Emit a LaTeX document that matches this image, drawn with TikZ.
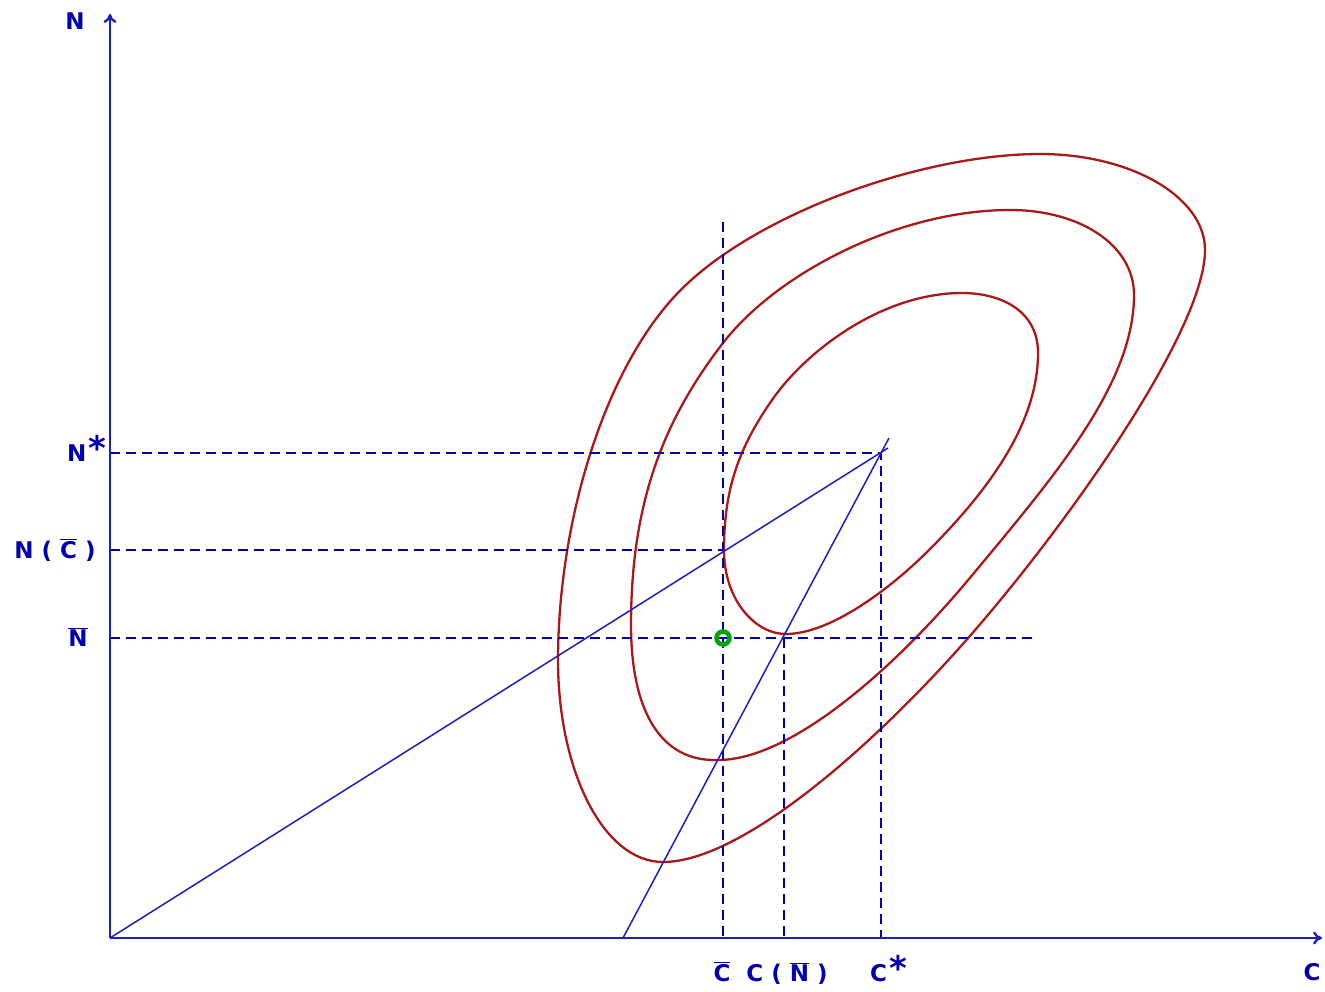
\documentclass[tikz,border=0pt]{standalone}
\usepackage{fontspec}
\setmainfont{DejaVu Sans}
\usetikzlibrary{arrows.meta}
\definecolor{axblue}{RGB}{30,30,190}
\definecolor{dblue}{RGB}{0,0,175}
\definecolor{cred}{RGB}{170,25,25}
\definecolor{cgreen}{RGB}{0,165,0}
\newcommand\ovl[1]{\ensuremath{\overline{\mbox{#1}}}}
\newcommand\starmark{\hspace{2pt}\raisebox{1pt}{\fontsize{34}{34}\selectfont *}}
\tikzset{
  axis/.style={draw=axblue, line width=2.4pt, -{To[length=9pt,width=13pt]}},
  guide/.style={draw=dblue, line width=2.3pt, dash pattern=on 10pt off 6pt},
  ray/.style={draw=axblue, line width=1.5pt},
  contour/.style={draw=cred, line width=2.3pt},
  lbl/.style={text=dblue, font=\bfseries\fontsize{23}{23}\selectfont, inner sep=0pt, anchor=base},
}
\begin{document}
\begin{tikzpicture}[x=1pt, y=-1pt]
\useasboundingbox (0,0) rectangle (1325,992);
% key points
\coordinate (O) at (110,938);
\coordinate (Ytop) at (110,14);
\coordinate (Xend) at (1322,938);
\coordinate (E) at (881,453);
\coordinate (Nstar) at (110,453);
\coordinate (NCb) at (110,550);
\coordinate (Nb) at (110,638);
\coordinate (Cb) at (723,938);
\coordinate (CNb) at (784,938);
\coordinate (Cstar) at (881,938);
\coordinate (CbTop) at (723,222);
\coordinate (P) at (723,550);
\coordinate (Q) at (784,638);
\coordinate (NbEnd) at (1035,638);
\coordinate (S) at (623,938);
\coordinate (Sext) at (889,438);
\coordinate (Rext) at (888,448);
% outer contour
\draw[contour] (1040,154) .. controls (1131,154) and (1205,197) .. (1205,250)
  .. controls (1205,330) and (1068,524) .. (969,637)
  .. controls (870,750) and (740,862) .. (663,862)
  .. controls (603,862) and (558,770) .. (558,660)
  .. controls (558,530) and (600,378) .. (674,297)
  .. controls (748,216) and (920,154) .. (1040,154) -- cycle;
% middle contour
\draw[contour] (1010,210) .. controls (1080,210) and (1134,245) .. (1134,295)
  .. controls (1134,385) and (1052,479) .. (969,579)
  .. controls (892,671) and (790,760) .. (718,760)
  .. controls (660,762) and (631,710) .. (631,625)
  .. controls (631,505) and (662,422) .. (723,343)
  .. controls (778,272) and (900,210) .. (1010,210) -- cycle;
% inner contour
\draw[contour] (962,293) .. controls (1000,293) and (1038,310) .. (1038,353)
  .. controls (1038,423) and (989,489) .. (933,546)
  .. controls (891,589) and (830,634) .. (786,634)
  .. controls (755,634) and (724,600) .. (724,550)
  .. controls (724,490) and (738,449) .. (772,400)
  .. controls (806,351) and (882,293) .. (962,293) -- cycle;
% guides
\draw[guide] (Nstar) -- (E) -- (Cstar);
\draw[guide] (NCb) -- (P);
\draw[guide] (Nb) -- (NbEnd);
\draw[guide] (CbTop) -- (Cb);
\draw[guide] (Q) -- (CNb);
% rays
\draw[ray] (O) -- (Rext);
\draw[ray] (S) -- (Sext);
% axes
\draw[axis] (O) -- (Ytop);
\draw[axis] (O) -- (Xend);
% optimum marker
\draw[cgreen, line width=4.5pt] (723,638) circle[radius=6.5pt];
% labels
\node[lbl] (lN) at (75,30) {N};
\node[lbl] (lC) at (1312,980) {C};
\node[lbl, anchor=base west] (lNs) at (67,461) {N\starmark};
\node[lbl] (lNC) at (55,558) {N ( \ovl{C} )};
\node[lbl] (lNb) at (78,646) {\ovl{N}};
\node[lbl] (lCb) at (722,981) {\ovl{C}};
\node[lbl] (lCN) at (787,981) {C ( \ovl{N} )};
\node[lbl, anchor=base west] (lCs) at (870,981) {C\starmark};
\end{tikzpicture}
\end{document}
